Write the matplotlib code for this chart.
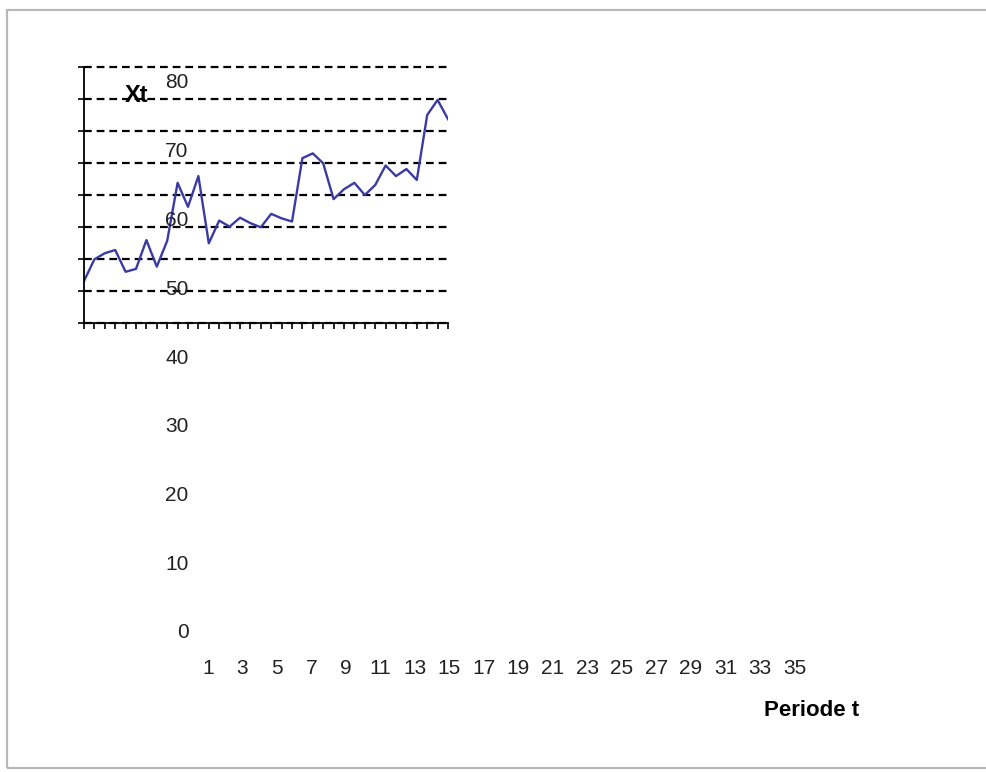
import numpy as np
import matplotlib
matplotlib.use("Agg")
import matplotlib.pyplot as plt
from matplotlib.patches import Rectangle

plt.rcParams['font.family'] = ['Liberation Sans', 'DejaVu Sans']

# series Xt over periods 1..36
periods = list(range(1, 37))
xt = [13.2, 20.0, 21.9, 22.9, 16.1, 17.0, 26.0, 17.7, 25.8, 43.9,
      36.4, 46.0, 25.0, 32.1, 30.2, 33.0, 31.3, 30.0, 34.2, 32.8,
      31.8, 51.6, 53.1, 50.0, 38.8, 41.9, 43.9, 40.1, 43.2, 49.3,
      46.0, 48.2, 44.8, 65.1, 69.8, 63.8]

y_ticks = [0, 10, 20, 30, 40, 50, 60, 70, 80]
x_ticklabels = list(range(1, 36, 2))

W, H = 986, 772
fig = plt.figure(figsize=(W / 100, H / 100), dpi=100)


def box(left, top, right, bottom):
    return [left / W, 1 - bottom / H, (right - left) / W, (bottom - top) / H]


# outer chart frame
fig.patches.append(Rectangle((7 / W, 1 - 768 / H), 990 / W, 758 / H,
                             transform=fig.transFigure, fill=False,
                             edgecolor='#b8b8b8', linewidth=1.6))

# plot area with the line
ax = fig.add_axes(box(84, 67.3, 448, 323.3))
ax.plot(periods, xt, color='#3b3ba6', linewidth=1.7)
ax.set_xlim(1, 36)
ax.set_ylim(0, 80)
ax.set_yticks(y_ticks)
ax.set_xticks(periods)
ax.tick_params(axis='y', direction='inout', length=8, width=1.2, labelleft=False)
ax.tick_params(axis='x', direction='out', length=4, width=1.2, labelbottom=False)
for s in ['top', 'right']:
    ax.spines[s].set_visible(False)
for s in ['left', 'bottom']:
    ax.spines[s].set_linewidth(1.3)
ax.grid(axis='y', color='black', linestyle=(0, (3.5, 2.2)), linewidth=1.6)
for gl in ax.get_ygridlines():
    gl.set_clip_on(False)
ax.set_axisbelow(True)
ax.patch.set_alpha(0)

# axis labels laid out over a wider frame
lab = fig.add_axes(box(190, 81, 880, 631))
lab.set_xlim(-0.025, 39.95)
lab.set_ylim(0, 80)
lab.set_yticks(y_ticks)
lab.set_xticks(x_ticklabels)
lab.tick_params(axis='y', length=0, pad=1, labelsize=15, labelcolor='#222222')
lab.tick_params(axis='x', length=0, pad=20, labelsize=15, labelcolor='#222222')
for s in lab.spines.values():
    s.set_visible(False)
lab.patch.set_alpha(0)

fig.text(137 / W, 1 - 95 / H, 'Xt', fontsize=17, fontweight='bold',
         ha='center', va='center')
fig.text(812 / W, 1 - 711 / H, 'Periode t', fontsize=16, fontweight='bold',
         ha='center', va='center')

fig.savefig('out.png', dpi=100)
